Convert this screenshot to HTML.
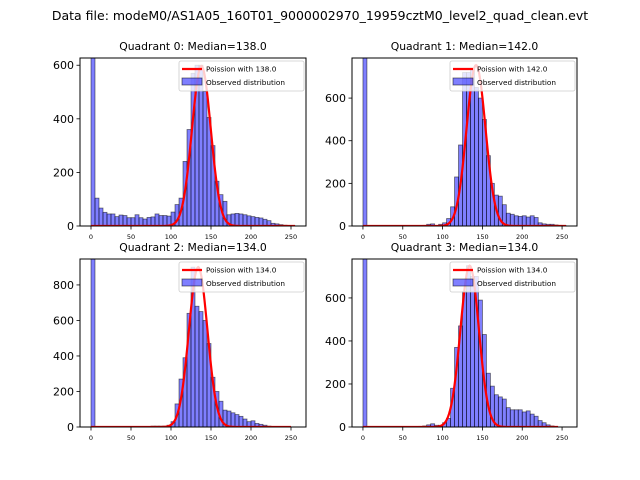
<!DOCTYPE html>
<html><head><meta charset="utf-8"><style>
body{margin:0;background:#fff;}
svg{display:block;font-family:"DejaVu Sans","Liberation Sans",sans-serif;}
</style></head><body>
<svg id="fig" width="640" height="480" viewBox="0 0 640 480" xmlns="http://www.w3.org/2000/svg">
<rect width="640" height="480" fill="#fff"/>
<text x="320" y="20" font-size="12.5" text-anchor="middle">Data file: modeM0/AS1A05_160T01_9000002970_19959cztM0_level2_quad_clean.evt</text>
</svg>
<script>
const binStarts = [];
for (let b = 0; b <= 250; b += 5) binStarts.push(b);
const medians = [138.0, 142.0, 134.0, 134.0];
const peakAmps = [597, 755, 900, 750];
const curveEnds = [255, 255, 250, 245];
const yMaxes = [627, 788, 946, 781];
const yTickSets = [[0,200,400,600],[0,200,400,600],[0,200,400,600,800],[0,200,400,600]];
const xTicks = [0,50,100,150,200,250];
const counts0 = [2000,104,67,51,45,45,35,41,39,31,31,42,31,26,32,34,45,39,39,37,52,80,104,241,360,570,600,600,502,405,300,167,117,92,42,45,47,45,42,38,35,32,30,25,20,10,8,5,3,2,1];
const counts1 = [2000,0,0,0,0,0,0,0,0,0,0,0,0,0,0,3,8,10,0,8,15,35,90,230,380,720,720,740,650,600,500,330,200,145,140,100,60,55,48,45,48,42,48,40,15,10,8,8,5,3,2];
const counts2 = [2000,0,0,0,0,0,0,0,0,0,0,0,0,0,0,5,5,5,5,10,30,130,270,390,640,900,680,650,600,470,280,200,145,95,90,80,70,60,45,30,35,20,15,10,5,0,0,0,0,0,0];
const counts3 = [2000,0,0,0,0,0,0,0,0,0,0,0,0,0,3,5,10,15,8,8,20,40,180,370,470,630,750,700,700,590,430,250,190,150,140,130,90,80,80,80,70,75,60,50,30,20,10,5,0,0,0];
const allCounts = [counts0, counts1, counts2, counts3];

const NS = "http://www.w3.org/2000/svg";
const svg = document.getElementById('fig');
function mk(tag, attrs, parent) {
  const e = document.createElementNS(NS, tag);
  for (const k in attrs) e.setAttribute(k, attrs[k]);
  (parent || svg).appendChild(e);
  return e;
}
const boxes = [[80,58,226,168],[352,58,225,168],[80,259,226,168],[352,259,225,168]];
for (let q = 0; q < 4; q++) {
  const [L, T, W, H] = boxes[q];
  const g = mk('g', {});
  
  
  const xmin = -13.75, xmax = 268.75, ymax = yMaxes[q];
  const xs = v => L + (v - xmin) / (xmax - xmin) * W;
  const ys = v => T + H - Math.min(v, ymax * 1.05) / ymax * H;
  const clipId = 'clip' + q;
  const cp = mk('clipPath', {id: clipId}, g);
  mk('rect', {x: L, y: T, width: W, height: H}, cp);
  const plot = mk('g', {'clip-path': 'url(#' + clipId + ')'}, g);
  const cnt = allCounts[q];
  for (let i = 0; i < binStarts.length; i++) {
    if (!cnt[i]) continue;
    const x0 = xs(binStarts[i]), x1 = xs(binStarts[i] + 5);
    const r = mk('rect', {x: x0, y: ys(cnt[i]), width: x1 - x0, height: T + H - ys(cnt[i]), fill: 'rgba(0,0,255,0.5)', stroke: 'rgba(0,0,0,0.55)', 'stroke-width': 0.8}, plot);
    
    
  }
  const mu = medians[q], sd = Math.sqrt(mu);
  let d = '';
  for (let v = 0; v <= curveEnds[q]; v += 1) {
    const y = peakAmps[q] * Math.exp(-((v - mu) ** 2) / (2 * sd * sd));
    d += (v ? 'L' : 'M') + xs(v).toFixed(2) + ',' + ys(y).toFixed(2);
  }
  const line = mk('path', {d: d, fill: 'none', stroke: '#ff0000', 'stroke-width': 2.2}, plot);
  
  
  const frame = mk('rect', {x: L, y: T, width: W, height: H, fill: 'none', stroke: '#000', 'stroke-width': 1}, g);
  
  
  for (const t of yTickSets[q]) {
    mk('line', {x1: L - 3.5, x2: L, y1: ys(t), y2: ys(t), stroke: '#000', 'stroke-width': 0.8}, g);
    const tx = mk('text', {x: L - 6, y: ys(t) + 4, 'font-size': 11, 'text-anchor': 'end'}, g);
    tx.textContent = t;
    
    
  }
  for (const t of xTicks) {
    mk('line', {x1: xs(t), x2: xs(t), y1: T + H, y2: T + H + 3.5, stroke: '#000', 'stroke-width': 0.8}, g);
    const tx = mk('text', {x: xs(t), y: T + H + 13, 'font-size': 6.5, 'text-anchor': 'middle'}, g);
    tx.textContent = t;
    
    
  }
  const title = mk('text', {x: L + W / 2, y: T - 8, 'font-size': 10.8, 'text-anchor': 'middle'}, g);
  title.textContent = 'Quadrant ' + q + ': Median=' + mu.toFixed(1);
  
  
  const lg = mk('g', {}, g);
  
  
  const lx = L + W - 127, ly = T + 3;
  mk('rect', {x: lx, y: ly, width: 125, height: 30, fill: 'rgba(255,255,255,0.8)', stroke: '#ccc', 'stroke-width': 0.8, rx: 2}, lg);
  mk('line', {x1: lx + 3, x2: lx + 23, y1: ly + 8, y2: ly + 8, stroke: '#ff0000', 'stroke-width': 2.2}, lg);
  mk('rect', {x: lx + 3, y: ly + 17, width: 20, height: 7, fill: 'rgba(0,0,255,0.5)', stroke: 'rgba(0,0,0,0.6)', 'stroke-width': 0.8}, lg);
  const t1 = mk('text', {x: lx + 27, y: ly + 10.5, 'font-size': 7.3}, lg);
  t1.textContent = 'Poission with ' + mu.toFixed(1);
  const t2 = mk('text', {x: lx + 27, y: ly + 24, 'font-size': 7.3}, lg);
  t2.textContent = 'Observed distribution';
}
</script>
</body></html>
